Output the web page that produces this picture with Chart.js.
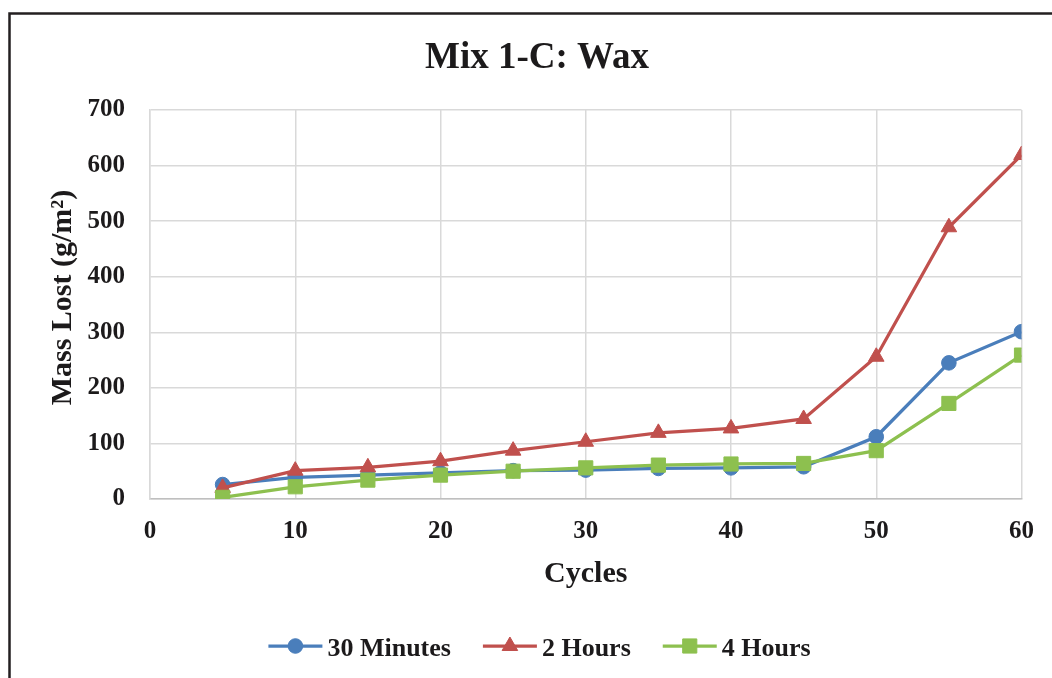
<!DOCTYPE html>
<html>
<head>
<meta charset="utf-8">
<title>Mix 1-C: Wax</title>
<script src="https://cdn.jsdelivr.net/npm/chart.js@4.4.1/dist/chart.umd.min.js"></script>
<style>
  html, body { margin: 0; padding: 0; background: #ffffff; }
  #wrap { width: 1052px; height: 678px; position: relative; }
  canvas { display: block; }
</style>
</head>
<body>
<div id="wrap"><canvas id="chart" width="1052" height="678"></canvas></div>
<script>
// Cycles at which mass loss was measured
const cycles = [5, 10, 15, 20, 25, 30, 35, 40, 45, 50, 55, 60];

// Cumulative mass lost (g/m²) for each immersion time
const minutes30 = [26, 39, 43, 47, 51, 52, 55, 56, 58, 112, 245, 301];
const hours2    = [20, 51, 57, 68, 87, 103, 119, 127, 144, 256, 489, 619];
const hours4    = [3, 22, 34, 43, 50, 56, 61, 63, 64, 87, 172, 259];

const seriesNames = ['30 Minutes', '2 Hours', '4 Hours'];
const chartTitle = 'Mix 1-C: Wax';
const xTitle = 'Cycles';
const yTitle = 'Mass Lost (g/m²)';

const SERIF = '"Liberation Serif", "Times New Roman", serif';
const INK = '#1c1a1b';
const GRID = '#d9d9d9';

const toPoints = (vals) => cycles.map((c, i) => ({ x: c, y: vals[i] }));

function series(label, vals, color, style, radius, order) {
  return {
    label,
    data: toPoints(vals),
    borderColor: color,
    backgroundColor: color,
    borderWidth: 3.25,
    pointStyle: style,
    pointRadius: radius,
    pointHoverRadius: radius,
    pointBackgroundColor: color,
    pointBorderColor: color,
    pointBorderWidth: 1,
    tension: 0,
    order
  };
}

// Outer frame, centred chart title and the vertical axis title
const framePlugin = {
  id: 'frame',
  beforeDraw(chart) {
    const ctx = chart.ctx;
    ctx.save();
    ctx.fillStyle = '#ffffff';
    ctx.fillRect(0, 0, chart.width, chart.height);
    ctx.strokeStyle = '#231f20';
    ctx.lineWidth = 2.5;
    ctx.beginPath();
    ctx.moveTo(9.5, chart.height + 5);
    ctx.lineTo(9.5, 13.5);
    ctx.lineTo(chart.width + 5, 13.5);
    ctx.stroke();
    ctx.restore();
  },
  afterDraw(chart) {
    const ctx = chart.ctx;
    ctx.save();
    ctx.fillStyle = INK;
    ctx.font = 'bold 37px ' + SERIF;
    ctx.textAlign = 'center';
    ctx.textBaseline = 'alphabetic';
    ctx.fillText(chartTitle, 537, 67.5);

    const area = chart.chartArea;
    ctx.font = 'bold 30px ' + SERIF;
    ctx.textBaseline = 'middle';
    ctx.translate(63, (area.top + area.bottom) / 2 - 7);
    ctx.rotate(-Math.PI / 2);
    ctx.fillText(yTitle, 0, 0);
    ctx.restore();
  }
};

// Legend with a line sample and marker for each series
const lineLegendPlugin = {
  id: 'lineLegend',
  afterDraw(chart) {
    const ctx = chart.ctx;
    const sets = chart.data.datasets;
    const lineLen = 54, textGap = 5, itemGap = 32, cy = 646;
    ctx.save();
    ctx.font = 'bold 26px ' + SERIF;
    const widths = sets.map(d => ctx.measureText(d.label).width);
    const total = widths.reduce((a, w) => a + lineLen + textGap + w, 0) + itemGap * (sets.length - 1);
    let x = 539.5 - total / 2;
    sets.forEach((d, i) => {
      ctx.strokeStyle = d.borderColor;
      ctx.lineWidth = d.borderWidth;
      ctx.beginPath();
      ctx.moveTo(x, cy);
      ctx.lineTo(x + lineLen, cy);
      ctx.stroke();
      ctx.fillStyle = d.pointBackgroundColor;
      ctx.strokeStyle = d.pointBorderColor;
      ctx.lineWidth = d.pointBorderWidth;
      Chart.helpers.drawPoint(ctx, {
        pointStyle: d.pointStyle,
        radius: d.pointRadius,
        rotation: 0,
        borderWidth: d.pointBorderWidth
      }, x + lineLen / 2, cy);
      ctx.fillStyle = INK;
      ctx.textAlign = 'left';
      ctx.textBaseline = 'alphabetic';
      ctx.fillText(d.label, x + lineLen + textGap, cy + 9.5);
      x += lineLen + textGap + widths[i] + itemGap;
    });
    ctx.restore();
  }
};

const tickFont = { family: SERIF, size: 25, weight: 'bold' };
const axisTitleFont = { family: SERIF, size: 30, weight: 'bold', lineHeight: 1.2 };

new Chart(document.getElementById('chart'), {
  type: 'line',
  data: {
    datasets: [
      series(seriesNames[0], minutes30, '#4a7ebb', 'circle', 7.3, 2),
      series(seriesNames[1], hours2, '#c0504d', 'triangle', 9, 1),
      series(seriesNames[2], hours4, '#8dc04f', 'rect', 10, 0)
    ]
  },
  options: {
    responsive: false,
    devicePixelRatio: 1,
    animation: false,
    layout: { padding: { top: 110, right: 30, bottom: 0, left: 0 } },
    plugins: {
      legend: { display: false },
      title: { display: false },
      tooltip: { enabled: false }
    },
    scales: {
      x: {
        type: 'linear',
        min: 0,
        max: 60,
        ticks: { stepSize: 10, font: tickFont, color: INK, padding: 18, maxRotation: 0 },
        grid: { color: GRID, lineWidth: 1.5, drawTicks: false },
        border: { color: '#bfbfbf', width: 1.5 },
        title: { display: true, text: xTitle, font: axisTitleFont, color: INK, padding: { top: 0, bottom: 86 } },
        afterFit(scale) { scale.height = 179; }
      },
      y: {
        min: 0,
        max: 700,
        ticks: { stepSize: 100, font: tickFont, color: INK, padding: 25 },
        grid: { color: GRID, lineWidth: 1.5, drawTicks: false },
        border: { color: GRID, width: 1.5 },
        title: { display: false },
        afterFit(scale) { scale.width = 150; }
      }
    }
  },
  plugins: [framePlugin, lineLegendPlugin]
});
</script>
</body>
</html>
